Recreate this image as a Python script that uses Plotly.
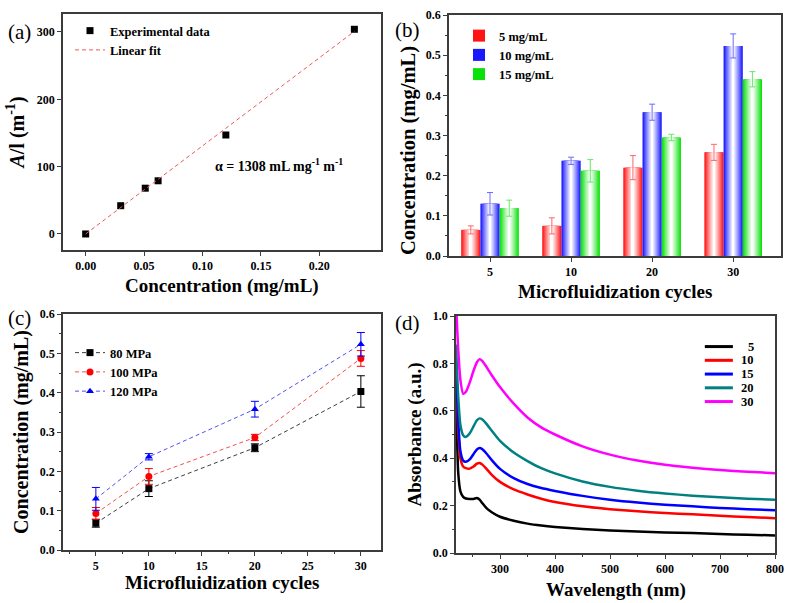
import plotly.graph_objects as go

# ---------------- data ----------------
# (a) calibration
conc_a = [0.0, 0.030, 0.051, 0.062, 0.120, 0.230]
al_a = [0, 42, 68, 79, 147, 304]
fit_x = [0.0, 0.23]
fit_slope = 1308  # mL mg^-1 m^-1

# (b) bars
cycles_cat = ['5', '10', '20', '30']
b_5 = [0.065, 0.075, 0.220, 0.258]
b_5_err = [0.010, 0.020, 0.030, 0.020]
b_10 = [0.130, 0.237, 0.358, 0.523]
b_10_err = [0.028, 0.009, 0.020, 0.030]
b_15 = [0.119, 0.212, 0.295, 0.440]
b_15_err = [0.020, 0.028, 0.008, 0.019]

# (c) pressure series
cycles_c = [5, 10, 20, 30]
c_80 = [0.068, 0.156, 0.260, 0.403]
c_80_err = [0.010, 0.020, 0.010, 0.040]
c_100 = [0.093, 0.187, 0.286, 0.487]
c_100_err = [0.015, 0.020, 0.008, 0.020]
c_120 = [0.130, 0.237, 0.358, 0.523]
c_120_err = [0.029, 0.008, 0.020, 0.030]

# (d) UV-vis spectra
wl = [220, 224, 228, 233, 238, 245, 252, 258, 263, 268, 275, 285, 300, 325, 350,
      375, 400, 450, 500, 550, 600, 650, 700, 750, 800]
abs_5 = [0.72, 0.34, 0.26, 0.237, 0.230, 0.228, 0.228, 0.232, 0.225, 0.210, 0.190, 0.172,
         0.153, 0.136, 0.124, 0.116, 0.110, 0.101, 0.095, 0.091, 0.087, 0.084, 0.080, 0.077, 0.074]
abs_10 = [0.80, 0.52, 0.40, 0.365, 0.358, 0.356, 0.365, 0.377, 0.380, 0.373, 0.356, 0.330,
          0.300, 0.268, 0.247, 0.229, 0.215, 0.197, 0.185, 0.176, 0.169, 0.163, 0.157, 0.152, 0.147]
abs_15 = [0.82, 0.56, 0.43, 0.390, 0.385, 0.395, 0.418, 0.437, 0.443, 0.438, 0.421, 0.392,
          0.355, 0.316, 0.291, 0.274, 0.262, 0.241, 0.225, 0.213, 0.204, 0.197, 0.190, 0.185, 0.180]
abs_20 = [0.88, 0.66, 0.54, 0.497, 0.490, 0.505, 0.535, 0.560, 0.568, 0.563, 0.546, 0.516,
          0.473, 0.424, 0.388, 0.358, 0.336, 0.302, 0.279, 0.263, 0.251, 0.242, 0.235, 0.229, 0.225]
abs_30 = [1.06, 0.86, 0.73, 0.672, 0.680, 0.720, 0.770, 0.805, 0.818, 0.810, 0.787, 0.750,
          0.700, 0.630, 0.572, 0.530, 0.500, 0.450, 0.415, 0.390, 0.372, 0.360, 0.350, 0.343, 0.337]
d_labels = ['5', '10', '15', '20', '30']

# ---------------- styling ----------------
W, H = 799, 603
FONT = 'Liberation Serif'
AX = 'rgb(60,60,60)'


def px_dom_x(a, b):
    return [a / W, b / W]


def px_dom_y(top, bot):
    return [1 - bot / H, 1 - top / H]


def axis_style(**kw):
    d = dict(showline=True, linecolor=AX, linewidth=1.5, mirror=True,
             ticks='outside', ticklen=4, tickwidth=1.2, tickcolor=AX,
             showgrid=False, zeroline=False,
             tickfont=dict(family=FONT, size=12, color='black', weight='bold'))
    d.update(kw)
    return d


def title(text, size, standoff):
    return dict(text=text, font=dict(family=FONT, size=size, color='black', weight='bold'),
                standoff=standoff)


fig = go.Figure()

# ---- (a)
fig.add_trace(go.Scatter(x=conc_a, y=al_a, mode='markers', name='Experimental data',
                         marker=dict(symbol='square', size=7, color='black'),
                         xaxis='x', yaxis='y', legend='legend'))
fig.add_trace(go.Scatter(x=fit_x, y=[fit_slope * v for v in fit_x], mode='lines', name='Linear fit',
                         line=dict(color='rgb(235,90,90)', width=1, dash='4px,3px'),
                         xaxis='x', yaxis='y', legend='legend'))

# ---- (b) gradient bars via stacked layers (overlay)
w = 0.237
N = 9
series_b = [('5 mg/mL', b_5, b_5_err, (255, 20, 20)),
            ('10 mg/mL', b_10, b_10_err, (25, 25, 255)),
            ('15 mg/mL', b_15, b_15_err, (10, 225, 10))]


def mix(c, t):
    return 'rgb(%d,%d,%d)' % tuple(round(ci + (255 - ci) * t) for ci in c)


for s, (name, vals, errs, col) in enumerate(series_b):
    xpos = [i + (s - 1) * w for i in range(len(cycles_cat))]
    for k in range(N):
        t = k / (N - 1)
        last = (k == N - 1)
        fig.add_trace(go.Bar(
            x=xpos, y=vals, width=w * (1 - 0.9 * t), name=name,
            marker=dict(color=mix(col, t ** 0.9), line=dict(width=0)),
            showlegend=(k == 0), legend='legend2',
            error_y=dict(type='data', array=errs, visible=last, color=mix(col, 0.35),
                         thickness=1, width=3),
            xaxis='x2', yaxis='y2'))

# ---- (c)
series_c = [('80 MPa', c_80, c_80_err, 'black', 'rgb(60,60,60)', 'square'),
            ('100 MPa', c_100, c_100_err, 'red', 'rgb(240,80,80)', 'circle'),
            ('120 MPa', c_120, c_120_err, 'blue', 'rgb(80,80,240)', 'triangle-up')]
for name, vals, errs, col, lcol, sym in series_c:
    fig.add_trace(go.Scatter(x=cycles_c, y=vals, mode='lines+markers', name=name,
                             line=dict(color=lcol, width=1, dash='4px,3px'),
                             marker=dict(symbol=sym, size=7, color=col),
                             error_y=dict(type='data', array=errs, color=col, thickness=1, width=4),
                             xaxis='x3', yaxis='y3', legend='legend3'))

# ---- (d)
series_d = [(abs_5, 'black'), (abs_10, 'red'), (abs_15, 'blue'), (abs_20, 'teal'), (abs_30, 'magenta')]
for (vals, col), lab in zip(series_d, d_labels):
    fig.add_trace(go.Scatter(x=wl, y=vals, mode='lines', name=lab, showlegend=False,
                             line=dict(color=col, width=2.5, shape='spline', smoothing=0.6),
                             xaxis='x4', yaxis='y4'))

# compact legend for (d)
shapes = []
annotations = []
for i, ((vals, col), lab) in enumerate(zip(series_d, d_labels)):
    yy = 0.871 - i * 0.058
    shapes.append(dict(type='line', xref='x4 domain', yref='y4 domain', x0=0.78, x1=0.868,
                       y0=yy, y1=yy, line=dict(color=col, width=3)))
    annotations.append(dict(xref='x4 domain', yref='y4 domain', x=0.94, y=yy, text=lab,
                            showarrow=False, xanchor='right', yanchor='middle',
                            font=dict(family=FONT, size=12.5, color='black', weight='bold')))

# panel labels
for lab, xp, yp in [('(a)', 6, 32), ('(b)', 393, 30), ('(c)', 6, 318), ('(d)', 393, 323)]:
    annotations.append(dict(xref='paper', yref='paper', x=xp / W, y=1 - yp / H, text=lab,
                            showarrow=False, xanchor='left', yanchor='middle',
                            font=dict(family=FONT, size=21, color='black')))

# alpha annotation
annotations.append(dict(xref='x domain', yref='y domain', x=0.472, y=0.36,
                        text='α = 1308 mL mg<sup>-1</sup> m<sup>-1</sup>', showarrow=False,
                        xanchor='left', yanchor='middle',
                        font=dict(family=FONT, size=14, color='black', weight='bold')))

# (b) y-axis title (sits below the panel label)
annotations.append(dict(xref='paper', yref='paper', x=408 / W, y=1 - 150 / H,
                        text='Concentration (mg/mL)', textangle=-90, showarrow=False,
                        xanchor='center', yanchor='middle',
                        font=dict(family=FONT, size=20.5, color='black', weight='bold')))

# x-axis titles placed as in the reference
for xref, txt, ypx in [('x', 'Concentration (mg/mL)', 286),
                       ('x2', 'Microfluidization cycles', 291),
                       ('x3', 'Microfluidization cycles', 582),
                       ('x4', 'Wavelength (nm)', 590)]:
    annotations.append(dict(xref=xref + ' domain', yref='paper', x=0.5, y=1 - ypx / H,
                            text=txt, showarrow=False, xanchor='center', yanchor='middle',
                            font=dict(family=FONT, size=19, color='black', weight='bold')))

leg_font = dict(family=FONT, size=12.5, color='black', weight='bold')

fig.update_layout(
    width=W, height=H, margin=dict(l=0, r=0, t=0, b=0, autoexpand=False),
    paper_bgcolor='white', plot_bgcolor='white',
    barmode='overlay', showlegend=True,
    xaxis=axis_style(domain=px_dom_x(63, 381), anchor='y', range=[-0.0194, 0.2528],
                     tickvals=[0, 0.05, 0.10, 0.15, 0.20], tickformat='.2f'),
    yaxis=axis_style(domain=px_dom_y(14, 250), anchor='x', range=[-23.8, 326.7],
                     tickvals=[0, 100, 200, 300],
                     title=title('<i>A</i>/l (m<sup>-1</sup>)', 20, 7)),
    xaxis2=axis_style(domain=px_dom_x(449, 781), anchor='y2', range=[-0.506, 3.59],
                      tickvals=[0, 1, 2, 3], ticktext=cycles_cat),
    yaxis2=axis_style(domain=px_dom_y(15, 256), anchor='x2', range=[0, 0.6], dtick=0.1,
                      tickformat='.1f', minor=dict(dtick=0.05, ticks='outside', ticklen=2.5, tickcolor=AX)),
    xaxis3=axis_style(domain=px_dom_x(63, 381), anchor='y3', range=[1.9, 31.9], tick0=0, dtick=5,
                      minor=dict(dtick=2.5, ticks='outside', ticklen=2.5, tickcolor=AX)),
    yaxis3=axis_style(domain=px_dom_y(314, 550), anchor='x3', range=[0, 0.6], dtick=0.1,
                      tickformat='.1f', minor=dict(dtick=0.05, ticks='outside', ticklen=2.5, tickcolor=AX),
                      title=title('Concentration (mg/mL)', 20, 6)),
    xaxis4=axis_style(domain=px_dom_x(456, 775), anchor='y4', range=[220, 800], tick0=0, dtick=100,
                      minor=dict(dtick=50, ticks='outside', ticklen=2.5, tickcolor=AX)),
    yaxis4=axis_style(domain=px_dom_y(316, 553), anchor='x4', range=[0, 1.0], dtick=0.2,
                      tickformat='.1f', minor=dict(dtick=0.1, ticks='outside', ticklen=2.5, tickcolor=AX),
                      title=title('Absorbance (a.u.)', 19, 6)),
    legend=dict(x=70 / W, y=1 - 16 / H, xanchor='left', yanchor='top', bgcolor='rgba(0,0,0,0)',
                font=leg_font, tracegroupgap=0),
    legend2=dict(x=459 / W, y=1 - 21 / H, xanchor='left', yanchor='top', bgcolor='rgba(0,0,0,0)',
                 font=leg_font, tracegroupgap=0),
    legend3=dict(x=70 / W, y=1 - 338 / H, xanchor='left', yanchor='top', bgcolor='rgba(0,0,0,0)',
                 font=leg_font, tracegroupgap=0),
    shapes=shapes, annotations=annotations,
)

fig.write_html('out.html', config={'displayModeBar': False},
               post_script="document.body.style.margin='0';document.body.style.overflow='hidden';")
